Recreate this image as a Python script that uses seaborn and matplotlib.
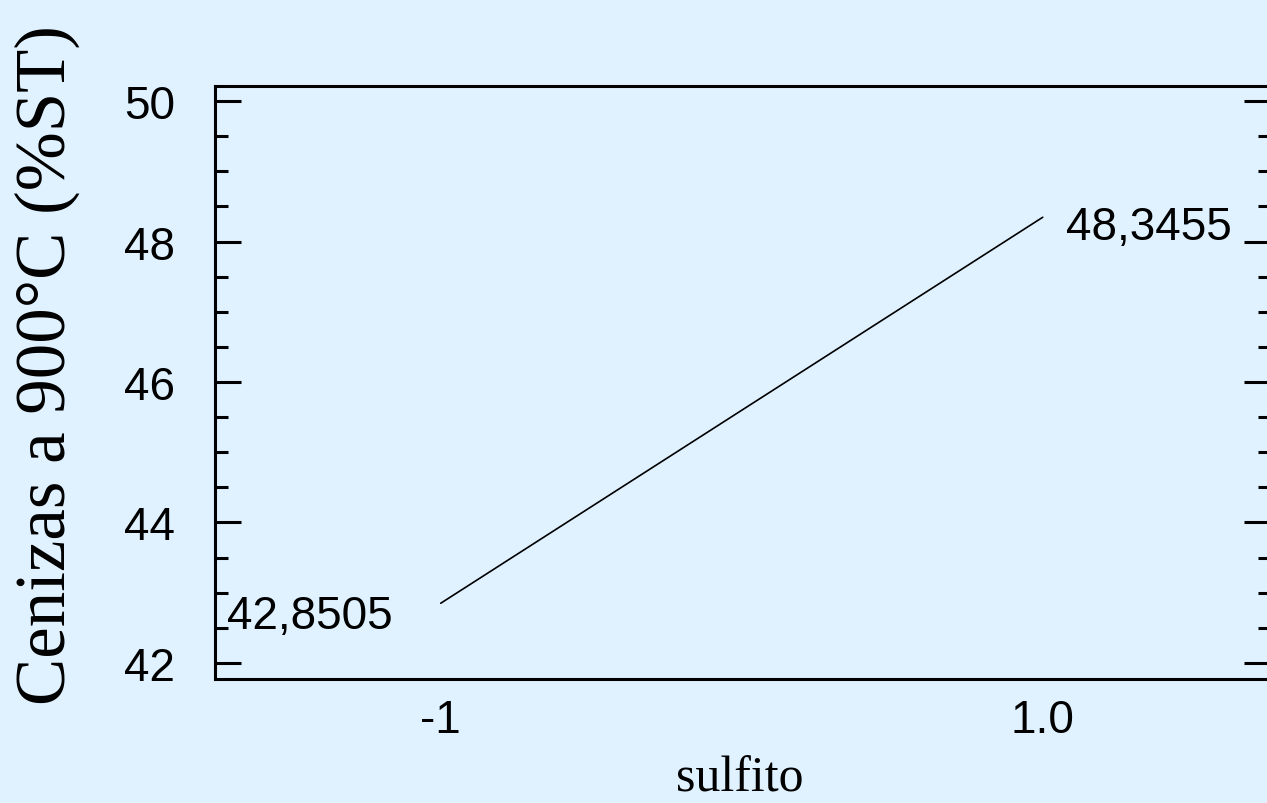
import matplotlib
matplotlib.use("Agg")
import matplotlib.pyplot as plt
from matplotlib.ticker import MultipleLocator, FixedLocator
import seaborn as sns
import pandas as pd

# Effect of sulfite level on ash content at 900 °C
sulfito = [-1, 1]
cenizas = [42.8505, 48.3455]
x_tick_pos = [-1, 1]
x_tick_labels = ["-1", "1.0"]
y_ticks = [42, 44, 46, 48, 50]
value_labels = ["42,8505", "48,3455"]

bg = "#E0F2FF"
sns.set_style("ticks")
plt.rcParams["font.family"] = ["Liberation Sans", "DejaVu Sans"]
plt.rcParams["text.color"] = "black"
plt.rcParams["axes.labelcolor"] = "black"
plt.rcParams["xtick.color"] = "black"
plt.rcParams["ytick.color"] = "black"

fig = plt.figure(figsize=(12.67, 8.04), dpi=100, facecolor=bg)
ax = fig.add_axes([215 / 1267, (804 - 680) / 804, (1270 - 215) / 1267, (680 - 87) / 804])
ax.set_facecolor(bg)

df = pd.DataFrame({"sulfito": sulfito, "cenizas": cenizas})
sns.lineplot(data=df, x="sulfito", y="cenizas", ax=ax, color="black", linewidth=1.2)

ax.set_xlim(-1.75, 1.755)
ax.set_ylim(41.772, 50.214)

ax.xaxis.set_major_locator(FixedLocator(x_tick_pos))
ax.set_xticklabels(x_tick_labels)
ax.tick_params(axis="x", which="both", length=0, pad=14, labelsize=33,
               labelcolor="black")

ax.yaxis.set_major_locator(FixedLocator(y_ticks))
ax.yaxis.set_minor_locator(MultipleLocator(0.5))
ax.tick_params(axis="y", which="major", direction="in", length=19, width=2.2,
               left=True, right=True, labelsize=33, pad=29, labelcolor="black")
ax.tick_params(axis="y", which="minor", direction="in", length=9, width=2.2,
               left=True, right=True)

for side in ["left", "right", "top", "bottom"]:
    ax.spines[side].set_linewidth(2.2)
    ax.spines[side].set_color("black")

# value labels at both ends of the line
ax.annotate(value_labels[0], xy=(sulfito[0], cenizas[0]), xytext=(-48, -13),
            textcoords="offset pixels", ha="right", va="center", fontsize=33,
            color="black")
ax.annotate(value_labels[1], xy=(sulfito[1], cenizas[1]), xytext=(23, -10),
            textcoords="offset pixels", ha="left", va="center", fontsize=33,
            color="black")

ax.set_xlabel("sulfito", family="Liberation Serif", fontsize=36, color="black")
ax.xaxis.label.set_va("baseline")
ax.xaxis.set_label_coords(0.497, -0.188)

ax.set_ylabel("Cenizas a 900°C (%ST)", family="Liberation Serif", fontsize=51,
              color="black")
ax.yaxis.label.set_va("center")
ax.yaxis.set_label_coords(-0.159, 0.531)

fig.savefig("out.png", dpi=100, facecolor=bg)
